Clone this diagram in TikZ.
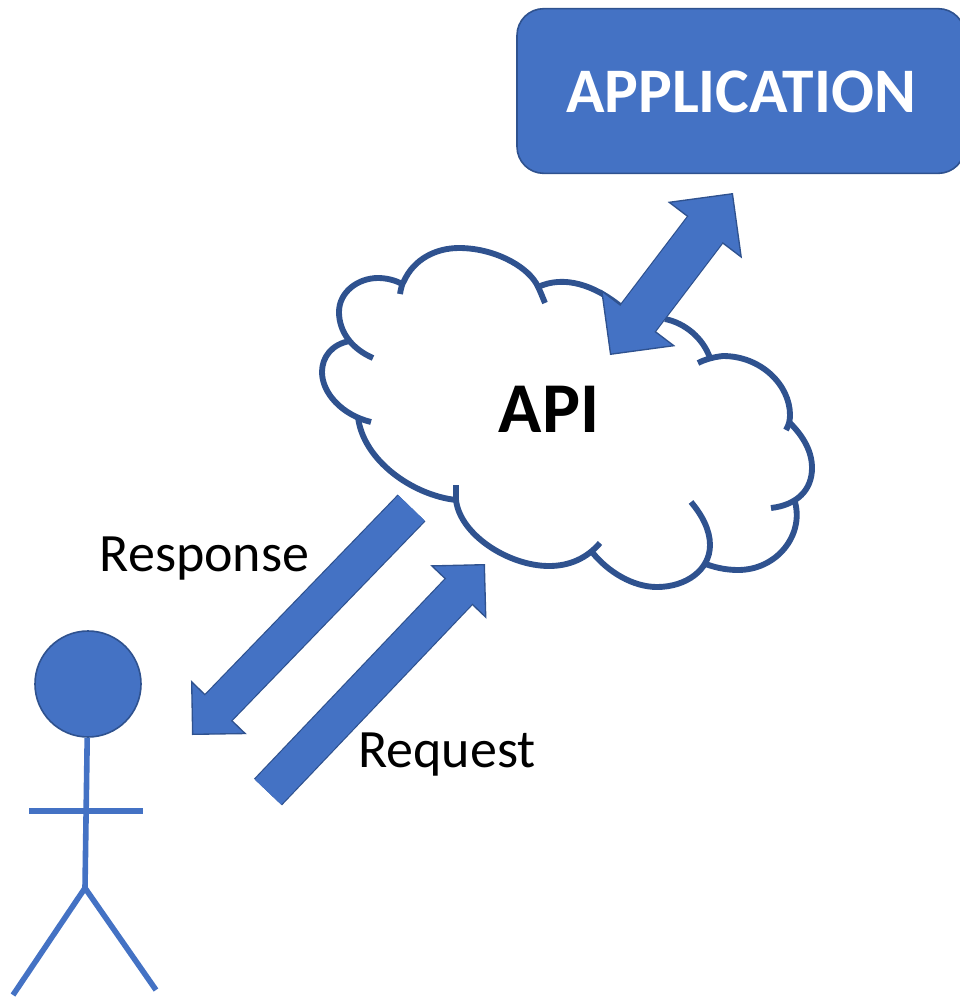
\documentclass[tikz,border=0pt]{standalone}
\usepackage{fontspec}
\setmainfont{Carlito}
\usetikzlibrary{arrows.meta}
\definecolor{mainblue}{HTML}{4472C4}
\definecolor{darkblue}{HTML}{2F528F}
\tikzset{
    cloudline/.style={draw=darkblue, line width=4.4pt},
    stick/.style={draw=mainblue, line width=4.2pt},
    blockshaft/.style={draw=darkblue, line width=1pt, double=mainblue},
    bigarrow/.style={blockshaft, double distance=27pt,
        {-Triangle[length=29pt, width=58pt, fill=mainblue]},
        postaction={draw=mainblue, double=none, line width=27pt, -, shorten >=27pt}},
    twoarrow/.style={blockshaft, double distance=32pt,
        {Triangle[length=35pt, width=70pt, fill=mainblue]}-{Triangle[length=35pt, width=70pt, fill=mainblue]},
        postaction={draw=mainblue, double=none, line width=32pt, -, shorten >=33pt, shorten <=33pt}},
    label/.style={anchor=base, text=black, font=\fontsize{40.5}{40.5}\selectfont},
}
\begin{document}
\begin{tikzpicture}[x=0.75pt,y=-0.75pt]
    \useasboundingbox (0,0) rectangle (960,997);
    % cloud, one arc at a time
    \draw[cloudline] (373,358) .. controls (352,349) and (339,332) .. (339,312) .. controls (339,292) and (358,278) .. (378,278) .. controls (386,278) and (395,280) .. (402,284);
    \draw[cloudline] (400,294) .. controls (401,288) and (402,284) .. (404,281) .. controls (414,259) and (436,248) .. (459,248) .. controls (493,248) and (525,265) .. (536,283) .. controls (540,290) and (542,296) .. (545,303);
    \draw[cloudline] (538,287) .. controls (564,275) and (594,285) .. (620,306);
    \draw[cloudline] (665,319) .. controls (685,323) and (703,338) .. (710,358);
    \draw[cloudline] (698,363) .. controls (706,359) and (714,357) .. (723,356) .. controls (761,356) and (790,385) .. (790,415) .. controls (790,420) and (789,425) .. (786,430);
    \draw[cloudline] (790,423) .. controls (804,437) and (812,452) .. (812,468) .. controls (812,490) and (797,505) .. (771,508);
    \draw[cloudline] (795,502) .. controls (804,535) and (777,570) .. (738,570) .. controls (725,570) and (713,567) .. (703,563);
    \draw[cloudline] (691,502) .. controls (702,515) and (710,530) .. (710,545) .. controls (710,570) and (686,587) .. (657,587) .. controls (633,587) and (608,572) .. (592,552);
    \draw[cloudline] (600,543) .. controls (587,558) and (570,566) .. (549,566) .. controls (509,566) and (460,535) .. (456,500) -- (456,485);
    \draw[cloudline] (456,500) .. controls (412,495) and (363,460) .. (358,417);
    \draw[cloudline] (350,341) .. controls (332,344) and (322,357) .. (322,372) .. controls (322,393) and (342,415) .. (371,422);
    \node[font=\bfseries\fontsize{53.6}{53.6}\selectfont, anchor=base] (api) at (549,432) {API};
    % application box
    \node[fill=mainblue, draw=darkblue, line width=1.2pt, rounded corners=20pt,
        minimum width=336pt, minimum height=123.5pt, text=white, text height=32pt,
        font=\bfseries\fontsize{47.6}{47.6}\selectfont] (app) at (741,91) {APPLICATION};
    % person
    \node[circle, fill=mainblue, draw=darkblue, line width=1.2pt, minimum size=79.5pt] (head) at (88,684) {};
    \coordinate (hip) at (85,888);
    \coordinate (armleft) at (29,811);
    \coordinate (armright) at (143,811);
    \coordinate (footleft) at (13,995);
    \coordinate (footright) at (156,990);
    \draw[stick] (head) -- (hip);
    \draw[stick] (armleft) -- (armright);
    \draw[stick] (footleft) -- (hip) -- (footright);
    % block arrows
    \coordinate (respstart) at (411.5,508);
    \coordinate (resptip) at (192,735);
    \coordinate (reqstart) at (268,792);
    \coordinate (reqtip) at (485,564);
    \coordinate (cloudtip) at (610,355);
    \coordinate (apptip) at (733,193);
    \draw[bigarrow] (respstart) -- (resptip);
    \draw[bigarrow] (reqstart) -- (reqtip);
    \draw[twoarrow] (cloudtip) -- (apptip);
    \node[label] (response) at (204.5,571) {Response};
    \node[label] (request) at (447,767) {Request};
\end{tikzpicture}
\end{document}
